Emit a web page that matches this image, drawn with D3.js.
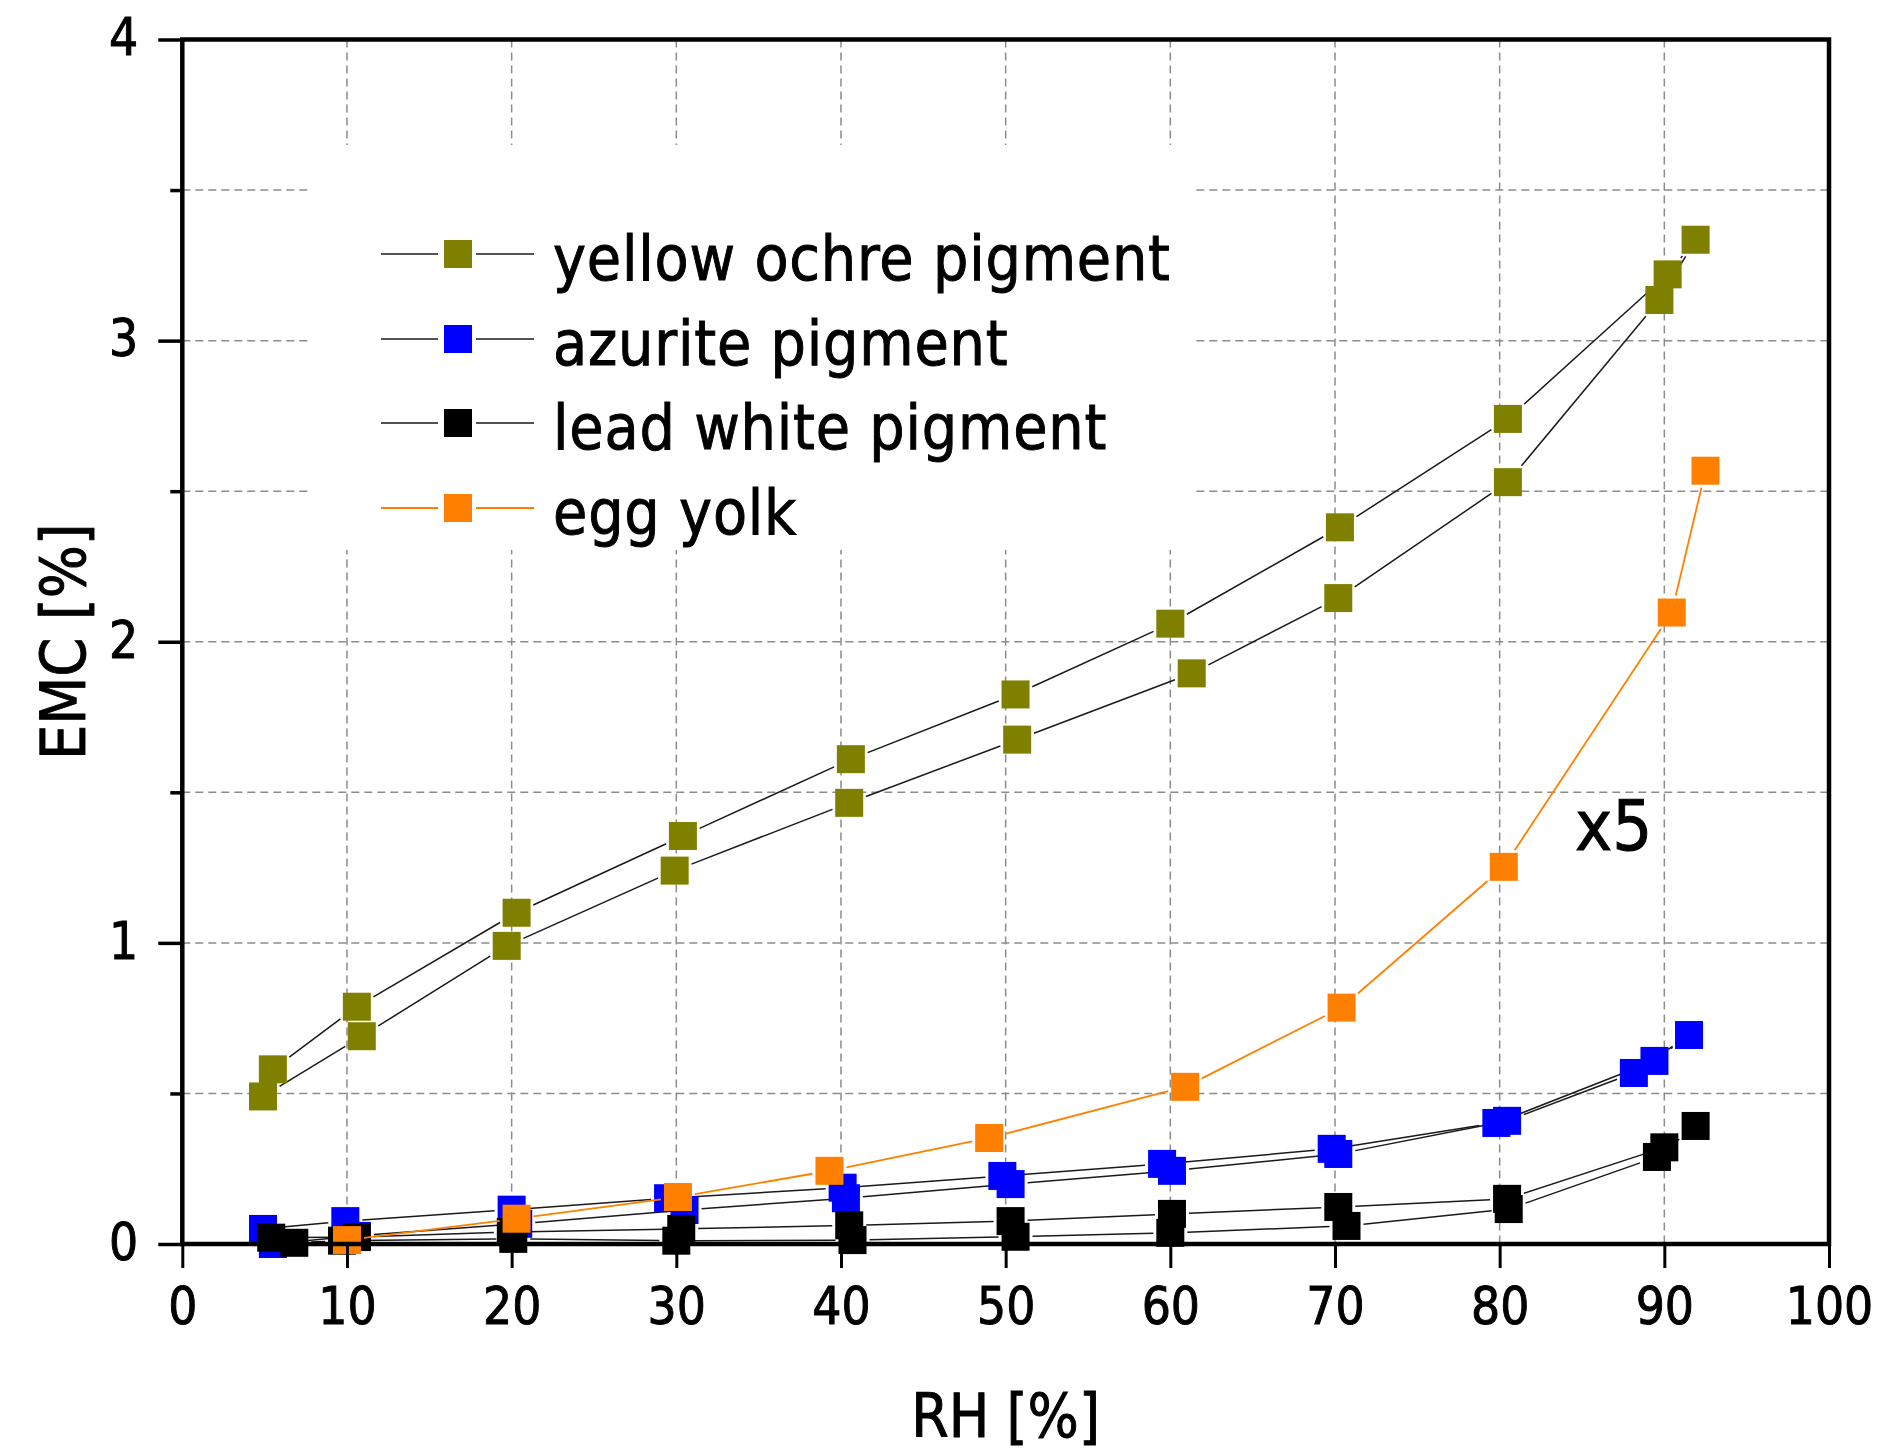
<!DOCTYPE html>
<html>
<head>
<meta charset="utf-8">
<script src="https://cdn.jsdelivr.net/npm/d3@7/dist/d3.min.js"></script>
<style>
body { margin: 0; background: #fff; }
text { font-family: "DejaVu Sans Condensed", "DejaVu Sans", sans-serif; font-stretch: condensed; fill: #000; stroke: #000; stroke-width: 0.9px; }
</style>
</head>
<body>
<div id="chart"></div>
<script>
// yellow ochre: adsorption up to max RH, then desorption back
var ochreRH  = [4.9, 10.9, 19.7, 29.9, 40.5, 50.7, 61.3, 70.2, 80.5, 89.7, 91.9, 90.2, 80.5, 70.3, 60.0, 50.6, 40.6, 30.4, 20.3, 10.6, 5.5];
var ochreEMC = [0.49, 0.69, 0.99, 1.24, 1.465, 1.675, 1.895, 2.145, 2.53, 3.135, 3.335, 3.22, 2.74, 2.38, 2.06, 1.825, 1.61, 1.355, 1.10, 0.788, 0.58];

var azuriteRH  = [5.5, 10.6, 20.4, 30.5, 40.3, 50.3, 60.1, 70.2, 80.45, 88.15, 91.5, 89.4, 79.8, 69.8, 59.5, 49.8, 40.1, 29.5, 20.0, 9.9, 4.9];
var azuriteEMC = [0.0, 0.027, 0.067, 0.113, 0.152, 0.199, 0.243, 0.299, 0.409, 0.568, 0.694, 0.608, 0.402, 0.316, 0.266, 0.226, 0.187, 0.152, 0.114, 0.076, 0.050];

var leadRH  = [6.8, 9.7, 20.1, 30.0, 40.7, 50.6, 60.0, 70.7, 80.55, 89.55, 91.9, 90.0, 80.45, 70.2, 60.1, 50.3, 40.5, 30.3, 19.95, 10.6, 5.4];
var leadEMC = [0.004, 0.011, 0.017, 0.011, 0.013, 0.024, 0.037, 0.060, 0.116, 0.289, 0.392, 0.321, 0.150, 0.123, 0.100, 0.076, 0.062, 0.050, 0.040, 0.023, 0.021];

// egg yolk, plotted x5
var eggRH  = [10.0, 20.3, 30.1, 39.3, 49.0, 60.9, 70.4, 80.25, 90.45, 92.5];
var eggEMC = [0.013, 0.084, 0.156, 0.243, 0.352, 0.522, 0.785, 1.2525, 2.097, 2.568];

var seriesNames = ["yellow ochre pigment", "azurite pigment", "lead white pigment", "egg yolk"];
var xTicks = [0, 10, 20, 30, 40, 50, 60, 70, 80, 90, 100];
var yTicks = [0, 1, 2, 3, 4];
var yMinor = [0.5, 1.5, 2.5, 3.5];

var series = [
    { name: seriesNames[0], rh: ochreRH, emc: ochreEMC, fill: "#808000", line: "#1a1a1a", lw: 1.5 },
    { name: seriesNames[1], rh: azuriteRH, emc: azuriteEMC, fill: "#0000ff", line: "#1a1a1a", lw: 1.5 },
    { name: seriesNames[2], rh: leadRH, emc: leadEMC, fill: "#000000", line: "#1a1a1a", lw: 1.5 },
    { name: seriesNames[3], rh: eggRH, emc: eggEMC, fill: "#ff8000", line: "#ff8000", lw: 1.8 }
];

var W = 1880, H = 1454;
var plotL = 182.3, plotR = 1829, plotT = 39.5, plotB = 1244;
var half = 14, gap = 3;

var x = d3.scaleLinear().domain([0, 100]).range([plotL, plotR]);
var y = d3.scaleLinear().domain([0, 4]).range([plotB, plotT]);

var svg = d3.select("#chart").append("svg")
    .attr("width", W)
    .attr("height", H);

// grid
var grid = svg.append("g")
    .attr("stroke", "#8c8c8c")
    .attr("stroke-width", 1.5)
    .attr("stroke-dasharray", "8,5");

grid.selectAll(".vg")
    .data(xTicks.slice(1, -1))
    .enter().append("line")
    .attr("x1", function (d) { return x(d); })
    .attr("x2", function (d) { return x(d); })
    .attr("y1", plotT)
    .attr("y2", plotB);

grid.selectAll(".hg")
    .data([0.5, 1, 1.5, 2, 2.5, 3, 3.5])
    .enter().append("line")
    .attr("x1", plotL)
    .attr("x2", plotR)
    .attr("y1", function (d) { return y(d); })
    .attr("y2", function (d) { return y(d); });

// legend background hides the grid
svg.append("rect")
    .attr("x", 309).attr("y", 145)
    .attr("width", 884).attr("height", 405)
    .attr("fill", "#fff");

// lines stop a little short of each marker
function gapSegments(pts) {
    var segs = [];
    for (var i = 1; i < pts.length; i++) {
        var a = pts[i - 1], b = pts[i];
        var dx = b[0] - a[0], dy = b[1] - a[1];
        var L = Math.sqrt(dx * dx + dy * dy);
        if (L === 0) continue;
        var ux = dx / L, uy = dy / L;
        var t = half / Math.max(Math.abs(ux), Math.abs(uy)) + gap;
        if (L > 2 * t) {
            segs.push([a[0] + ux * t, a[1] + uy * t, b[0] - ux * t, b[1] - uy * t]);
        }
    }
    return segs;
}

series.forEach(function (s) {
    var pts = s.rh.map(function (d, i) { return [x(d), y(s.emc[i])]; });
    var g = svg.append("g");
    g.selectAll("line")
        .data(gapSegments(pts))
        .enter().append("line")
        .attr("x1", function (d) { return d[0]; })
        .attr("y1", function (d) { return d[1]; })
        .attr("x2", function (d) { return d[2]; })
        .attr("y2", function (d) { return d[3]; })
        .attr("stroke", s.line)
        .attr("stroke-width", s.lw);
    g.selectAll("rect")
        .data(pts)
        .enter().append("rect")
        .attr("x", function (d) { return d[0] - half; })
        .attr("y", function (d) { return d[1] - half; })
        .attr("width", half * 2)
        .attr("height", half * 2)
        .attr("fill", s.fill);
});

// axes
var xAxis = svg.append("g")
    .attr("transform", "translate(0," + plotB + ")")
    .call(d3.axisBottom(x).tickValues(xTicks).tickSize(24).tickSizeOuter(0).tickPadding(20).tickFormat(d3.format("d")));
xAxis.select(".domain").remove();
xAxis.selectAll(".tick line").attr("stroke", "#000").attr("stroke-width", 3);
xAxis.selectAll(".tick text").attr("font-size", 51);

var yAxis = svg.append("g")
    .attr("transform", "translate(" + plotL + ",0)")
    .call(d3.axisLeft(y).tickValues(yTicks).tickSize(24).tickSizeOuter(0).tickPadding(20).tickFormat(d3.format("d")));
yAxis.select(".domain").remove();
yAxis.selectAll(".tick line").attr("stroke", "#000").attr("stroke-width", 3.5);
yAxis.selectAll(".tick text").attr("font-size", 51).attr("dy", "0.3em");

var yAxisMinor = svg.append("g")
    .attr("transform", "translate(" + plotL + ",0)")
    .call(d3.axisLeft(y).tickValues(yMinor).tickSize(12).tickFormat(""));
yAxisMinor.select(".domain").remove();
yAxisMinor.selectAll(".tick line").attr("stroke", "#000").attr("stroke-width", 3.5);

svg.selectAll("g").attr("font-family", null);

// frame
svg.append("rect")
    .attr("x", plotL).attr("y", plotT)
    .attr("width", plotR - plotL).attr("height", plotB - plotT)
    .attr("fill", "none")
    .attr("stroke", "#000")
    .attr("stroke-width", 4.5);

// axis titles
svg.append("text")
    .attr("x", (plotL + plotR) / 2)
    .attr("y", 1437)
    .attr("text-anchor", "middle")
    .attr("font-size", 60)
    .text("RH [%]");

svg.append("text")
    .attr("transform", "translate(85," + (plotT + plotB) / 2 + ") rotate(-90)")
    .attr("text-anchor", "middle")
    .attr("font-size", 62)
    .text("EMC [%]");

svg.append("text")
    .attr("x", 1575)
    .attr("y", 850)
    .attr("font-size", 70)
    .text("x5");

// legend
var legend = svg.append("g");
var rowY = [254, 339, 423, 508];
series.forEach(function (s, i) {
    var row = legend.append("g").attr("transform", "translate(0," + rowY[i] + ")");
    row.append("line").attr("x1", 381).attr("x2", 438).attr("y1", 0).attr("y2", 0)
        .attr("stroke", s.line).attr("stroke-width", s.lw);
    row.append("line").attr("x1", 476).attr("x2", 534).attr("y1", 0).attr("y2", 0)
        .attr("stroke", s.line).attr("stroke-width", s.lw);
    row.append("rect").attr("x", 458 - half).attr("y", -half)
        .attr("width", half * 2).attr("height", half * 2)
        .attr("fill", s.fill);
    row.append("text").attr("x", 553).attr("y", 26)
        .attr("font-size", 62)
        .attr("letter-spacing", 0.8)
        .text(s.name);
});
</script>
</body>
</html>
